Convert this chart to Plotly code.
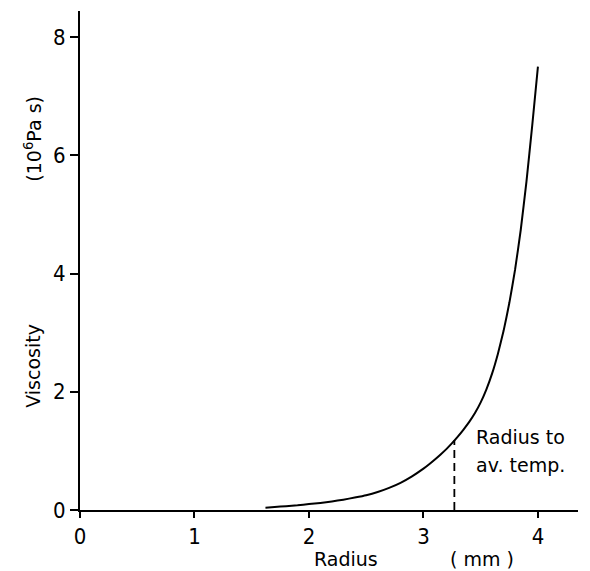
import plotly.graph_objects as go

# Viscosity profile against radius
radius = [1.62, 1.7, 1.8, 1.9, 2.0, 2.1, 2.2, 2.3, 2.4, 2.5, 2.6, 2.7, 2.8, 2.9, 3.0,
          3.05, 3.1, 3.15, 3.2, 3.25, 3.3, 3.35, 3.4, 3.45, 3.5, 3.55, 3.6, 3.65,
          3.7, 3.75, 3.8, 3.85, 3.9, 3.95, 4.0]
viscosity = [0.04, 0.05, 0.065, 0.08, 0.1, 0.12, 0.145, 0.175, 0.21, 0.25, 0.305, 0.375, 0.46, 0.57, 0.70,
             0.775, 0.855, 0.94, 1.03, 1.13, 1.24, 1.36, 1.49, 1.64, 1.82, 2.04, 2.31, 2.64,
             3.03, 3.5, 4.06, 4.74, 5.56, 6.5, 7.5]

# Radius at which the average temperature is reached
avg_radius = 3.27
avg_viscosity = 1.18

x_ticks = [0, 1, 2, 3, 4]
y_ticks = [0, 2, 4, 6, 8]

TICK_FONT = dict(size=22, color="black", family="DejaVu Sans Condensed, DejaVu Sans, sans-serif")
LABEL_FONT = dict(size=19, color="black", family="DejaVu Sans, sans-serif")

fig = go.Figure()
fig.add_trace(go.Scatter(
    x=radius, y=viscosity, mode="lines",
    line=dict(color="black", width=2, shape="spline", smoothing=0.4),
    hoverinfo="skip", showlegend=False,
))
fig.add_trace(go.Scatter(
    x=[avg_radius, avg_radius], y=[0, avg_viscosity], mode="lines",
    line=dict(color="black", width=1.8, dash="8px,5px"),
    hoverinfo="skip", showlegend=False,
))

fig.update_xaxes(
    range=[0, 4.35], tickvals=x_ticks, ticks="outside", ticklen=6, tickwidth=1.5,
    tickcolor="black", showline=True, linecolor="black", linewidth=2,
    showgrid=False, zeroline=False, tickfont=TICK_FONT,
)
fig.update_yaxes(
    range=[0, 8.44], tickvals=y_ticks, ticks="outside", ticklen=8, tickwidth=1.5,
    tickcolor="black", showline=True, linecolor="black", linewidth=2,
    showgrid=False, zeroline=False, tickfont=TICK_FONT,
)

# Axis titles, split into name and unit parts
fig.add_annotation(text="Viscosity", xref="paper", yref="y", x=0, y=2.44,
                   xanchor="center", yanchor="middle", xshift=-47, textangle=-90,
                   showarrow=False, font=LABEL_FONT)
fig.add_annotation(text="(10<sup>6</sup>Pa s)", xref="paper", yref="y", x=0, y=6.28,
                   xanchor="center", yanchor="middle", xshift=-47, textangle=-90,
                   showarrow=False, font=LABEL_FONT)
fig.add_annotation(text="Radius", xref="x", yref="paper", x=2.32, y=0,
                   yanchor="top", yshift=-36, showarrow=False, font=LABEL_FONT)
fig.add_annotation(text="( mm )", xref="x", yref="paper", x=3.51, y=0,
                   yanchor="top", yshift=-36, showarrow=False, font=LABEL_FONT)

# Label for the dashed marker
fig.add_annotation(text="Radius to", xref="x", yref="y", x=3.44, y=1.23,
                   xanchor="left", yanchor="middle", showarrow=False, font=LABEL_FONT)
fig.add_annotation(text="av. temp.", xref="x", yref="y", x=3.44, y=0.76,
                   xanchor="left", yanchor="middle", showarrow=False, font=LABEL_FONT)

fig.update_layout(
    width=590, height=571,
    margin=dict(l=80, r=12, t=11, b=61),
    paper_bgcolor="white", plot_bgcolor="white",
)

fig.write_html("out.html")
